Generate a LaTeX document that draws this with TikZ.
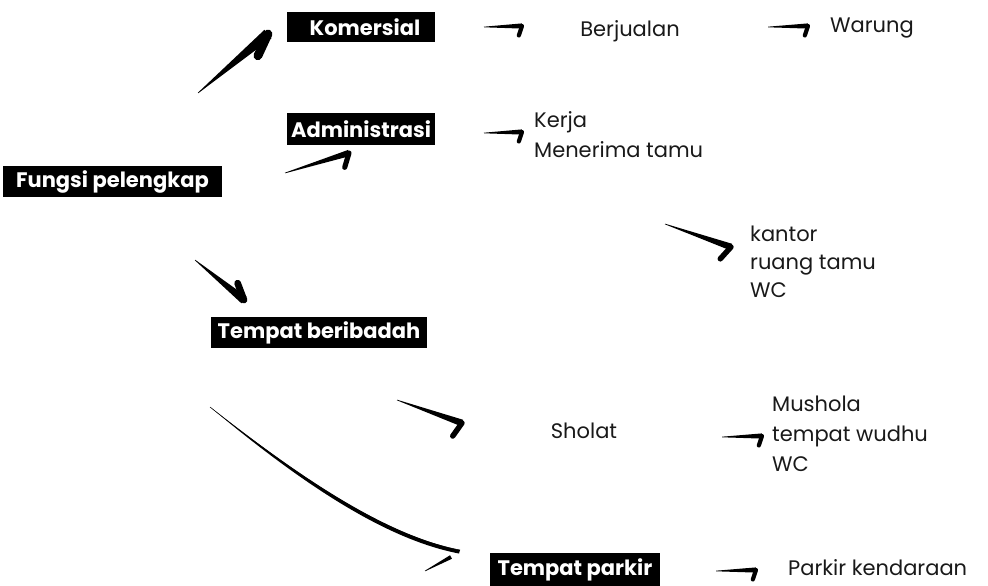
\documentclass[tikz,border=0pt]{standalone}
\usepackage{fontspec}
\setmainfont{Poppins}
\usetikzlibrary{calc}
\tikzset{
  blackbox/.style={fill=black, text=white, font=\fontsize{21}{24}\selectfont\bfseries, inner sep=0pt, minimum height=31pt, align=center},
  plain/.style={font=\fontsize{21}{30}\selectfont, inner sep=0pt, align=left, text=black!90},
}
% #1 tail, #2 head, #3 half width at head, #4 barb angle, #5 barb length
\newcommand\brush[5]{%
  \fill ($(#1)!0.3pt!90:(#2)$) -- ($(#2)!#3!-90:(#1)$) -- ($(#2)!#3!90:(#1)$) -- ($(#1)!0.3pt!-90:(#2)$) -- cycle;
  \draw[line width=1.6*#3, line cap=round] (#2) -- ($(#2)!#5!#4:(#1)$);
}
\begin{document}
\begin{tikzpicture}[x=1pt, y=-1pt]
\useasboundingbox (0,0) rectangle (988,586);
\begin{scope}
\clip (0,0) rectangle (988,586);
% boxes
\node[blackbox, minimum width=219pt] (fungsi) at (112.5,181.5) {Fungsi pelengkap};
\node[blackbox, minimum width=148pt, minimum height=30pt] (komersial) at (361,27) {\ \,Komersial};
\node[blackbox, minimum width=148pt, minimum height=32pt] (admin) at (361,129) {Administrasi};
\node[blackbox, minimum width=216pt] (ibadah) at (319,332.5) {Tempat beribadah};
\node[blackbox, minimum width=170pt, minimum height=34pt] (parkir) at (575,570) {Tempat parkir};
% texts
\node[plain] (berjualan) at (630,31) {Berjualan};
\node[plain, anchor=west] (warung) at (830,28) {Warung};
\node[plain, anchor=west] (kerja) at (534,135) {Kerja\\Menerima tamu};
\node[plain, anchor=west, font=\fontsize{21}{28}\selectfont] (kantor) at (750,262) {kantor\\ruang tamu\\WC};
\node[plain] (sholat) at (584,431) {Sholat};
\node[plain, anchor=west] (mushola) at (772,434) {Mushola\\tempat wudhu\\WC};
\node[plain, anchor=west] (kendaraan) at (788,568) {Parkir kendaraan};
% arrow coordinates
\coordinate (a1t) at (198,93);  \coordinate (a1h) at (268,34);
\coordinate (a2t) at (285,173); \coordinate (a2h) at (349,153);
\coordinate (a3t) at (195,260); \coordinate (a3h) at (244,300);
\coordinate (a4t) at (484,27);  \coordinate (a4h) at (522,26);
\coordinate (a5t) at (768,27);  \coordinate (a5h) at (808,26);
\coordinate (a6t) at (484,133); \coordinate (a6h) at (522,132);
\coordinate (a7t) at (665,224); \coordinate (a7h) at (731,247);
\coordinate (a8t) at (397,400); \coordinate (a8h) at (462,423);
\coordinate (a9t) at (722,437); \coordinate (a9h) at (762,436);
\coordinate (a10t) at (716,571); \coordinate (a10h) at (756,570);
\coordinate (ct) at (210,407); \coordinate (ch) at (460,550);
\coordinate (bt) at (425,571); \coordinate (bh) at (451,557);
\brush{a1t}{a1h}{5.5pt}{25}{24pt}
\brush{a2t}{a2h}{3.2pt}{56}{15pt}
\brush{a3t}{a3h}{4.2pt}{-30}{18pt}
\brush{a4t}{a4h}{2.6pt}{70}{10pt}
\brush{a5t}{a5h}{2.6pt}{70}{10pt}
\brush{a6t}{a6h}{2.6pt}{70}{10pt}
\brush{a7t}{a7h}{3.4pt}{67}{16pt}
\brush{a8t}{a8h}{3.4pt}{74}{16pt}
\brush{a9t}{a9h}{2.6pt}{70}{10pt}
\brush{a10t}{a10h}{2.6pt}{70}{10pt}
% long curved connector to Tempat parkir (tapered brush stroke)
\fill (ct) .. controls (290,469) and (380,534) .. (ch)
      -- (459,553.5) .. controls (378,538) and (288,472) .. (ct) -- cycle;
\draw[line width=0.5pt] (ct) .. controls (290,470) and (380,535) .. (ch);
\fill ($(bt)!0.3pt!90:(bh)$) -- ($(bh)!2pt!-90:(bt)$) -- ($(bh)!2pt!90:(bt)$) -- ($(bt)!0.3pt!-90:(bh)$) -- cycle;
\end{scope}
\end{tikzpicture}
\end{document}
